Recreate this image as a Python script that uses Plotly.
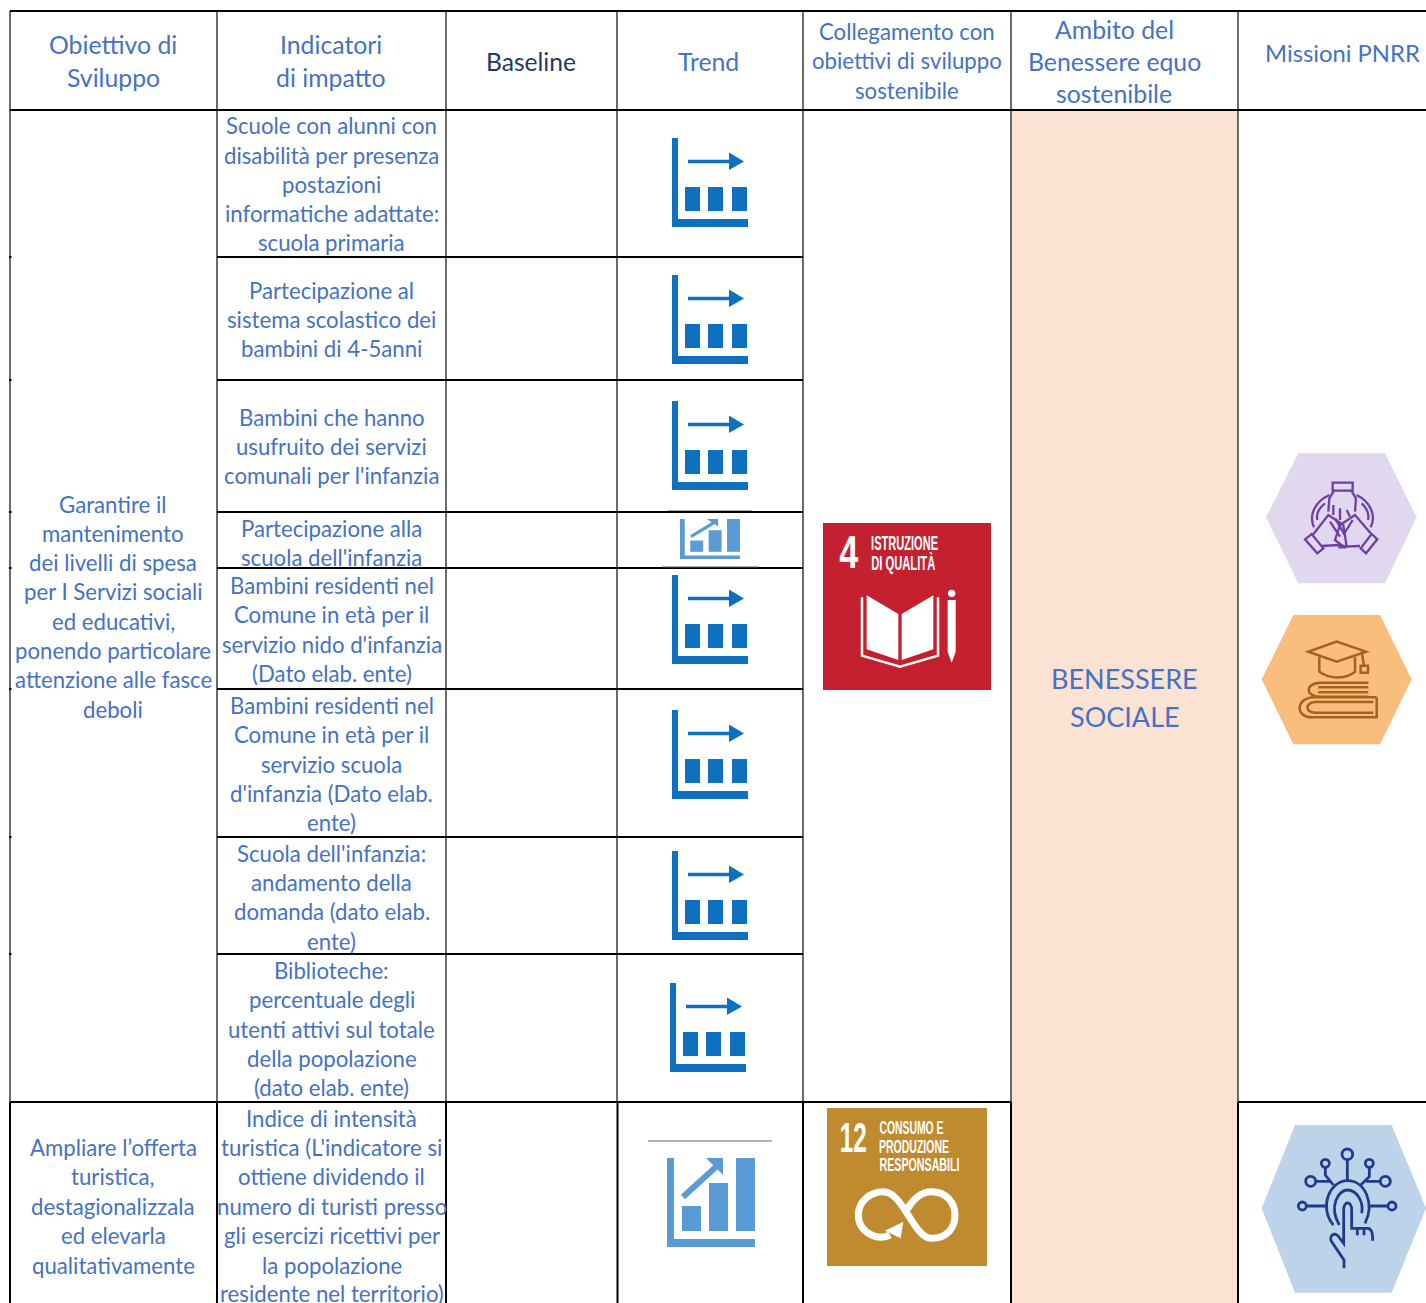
import json
import plotly.graph_objects as go

W, H = 1426, 1303
TEXT = "#4472C4"
FONT = "Lato"
TILE = "Liberation Sans"

# ---------- table structure ----------
col_x = [10, 217, 446, 617, 803, 1011, 1238]
header_top, header_bottom, row_split = 11, 110, 1102
indicator_rows = [257, 380, 512, 568, 689, 837, 954]
peach = (1011, 1238, 110, 1303)

# ---------- header text: (x, y, text, size, colour) ----------
headers = [
    (113, 45, "Obiettivo di", 24.8, TEXT), (113, 78, "Sviluppo", 24.8, TEXT),
    (331, 45, "Indicatori", 24.8, TEXT), (331, 78, "di impatto", 24.8, TEXT),
    (531, 62, "Baseline", 24.6, "#1F3864"), (708, 62, "Trend", 24.8, TEXT),
    (907, 32, "Collegamento con", 22.2, TEXT), (907, 61, "obiettivi di sviluppo", 22.2, TEXT),
    (907, 91, "sostenibile", 22.2, TEXT),
    (1114, 30, "Ambito del", 24.8, TEXT), (1114, 62, "Benessere equo", 24.8, TEXT),
    (1114, 94, "sostenibile", 24.8, TEXT),
    (1342, 54, "Missioni PNRR", 23.8, TEXT),
]

# ---------- body text ----------
goal_lines = [
    (505, "Garantire il"), (534, "mantenimento"), (563, "dei livelli di spesa"),
    (592, "per I Servizi sociali"), (622, "ed educativi,"), (651, "ponendo particolare"),
    (680, "attenzione alle fasce"), (710, "deboli"),
    (1148, "Ampliare l’offerta"), (1177, "turistica,"), (1207, "destagionalizzala"),
    (1236, "ed elevarla"), (1266, "qualitativamente"),
]
indicator_lines = [
    (126, "Scuole con alunni con"), (156, "disabilità per presenza"), (185, "postazioni"),
    (214, "informatiche adattate:"), (243, "scuola primaria"),
    (291, "Partecipazione al"), (320, "sistema scolastico dei"), (349, "bambini di 4-5anni"),
    (418, "Bambini che hanno"), (447, "usufruito dei servizi"), (476, "comunali per l'infanzia"),
    (529, "Partecipazione alla"), (558, "scuola dell'infanzia"),
    (586, "Bambini residenti nel"), (615, "Comune in età per il"),
    (645, "servizio nido d'infanzia"), (674, "(Dato elab. ente)"),
    (706, "Bambini residenti nel"), (735, "Comune in età per il"), (765, "servizio scuola"),
    (794, "d'infanzia (Dato elab."), (823, "ente)"),
    (854, "Scuola dell'infanzia:"), (883, "andamento della"), (912, "domanda (dato elab."),
    (942, "ente)"),
    (971, "Biblioteche:"), (1000, "percentuale degli"), (1030, "utenti attivi sul totale"),
    (1059, "della popolazione"), (1088, "(dato elab. ente)"),
    (1119, "Indice di intensità"), (1148, "turistica (L'indicatore si"),
    (1177, "ottiene dividendo il"), (1207, "numero di turisti presso"),
    (1236, "gli esercizi ricettivi per"), (1266, "la popolazione"),
    (1294, "residente nel territorio)"),
]
ambito_lines = [(679, "BENESSERE"), (717, "SOCIALE")]

# ---------- SDG tile labels: (left, right, y, text, size) ----------
tile_labels = [
    (839, 858, 552, "4", 46), (871, 938, 543, "ISTRUZIONE", 20), (871, 935, 563, "DI QUALITÀ", 20),
    (840, 867, 1137, "12", 42), (879, 943, 1128, "CONSUMO E", 18),
    (879, 949, 1147, "PRODUZIONE", 18), (879, 959, 1165, "RESPONSABILI", 18),
]

# ---------- icon placement ----------
flat_trend_origins = [(671, 138), (671, 275), (671, 401), (671, 575), (671, 710), (671, 851), (669, 983)]
up_trend_boxes = [(680, 519, 60, 40), (667, 1158, 88, 89)]

shapes, anns = [], []
TEXT_SHIFT = -1


def rect(x0, y0, x1, y1, fill):
    shapes.append(dict(type="rect", x0=x0, y0=y0, x1=x1, y1=y1, fillcolor=fill, line_width=0))


def line(x0, y0, x1, y1, color="#000000", width=2):
    shapes.append(dict(type="line", x0=x0, y0=y0, x1=x1, y1=y1, line=dict(color=color, width=width)))


def txt(x, y, s, size, color=TEXT, font=FONT, weight=400):
    anns.append(dict(x=x, y=y + TEXT_SHIFT, text=s, showarrow=False, xanchor="center", yanchor="middle",
                     font=dict(family=font, size=size, color=color, weight=weight), xref="x", yref="y"))


def path(d, ox, oy, s=1 / 3, stroke=None, width=0, fill=None):
    """d is a list of commands and (x, y) pairs in local crop units."""
    out = []
    for item in d:
        if isinstance(item, str):
            out.append(item)
        else:
            out.append(f"{ox + item[0] * s:.2f},{oy + item[1] * s:.2f}")
    spec = dict(type="path", path=" ".join(out), line=dict(color=stroke or "rgba(0,0,0,0)", width=width))
    if fill:
        spec["fillcolor"] = fill
    shapes.append(spec)


def circle(cx, cy, r, ox, oy, stroke, width, fill=None, s=1 / 3):
    x, y, rr = ox + cx * s, oy + cy * s, r * s
    spec = dict(type="circle", x0=x - rr, x1=x + rr, y0=y - rr, y1=y + rr, line=dict(color=stroke, width=width))
    if fill:
        spec["fillcolor"] = fill
    shapes.append(spec)


# ---------- background and grid ----------
rect(peach[0], peach[2], peach[1], peach[3], "#FCE2D2")
for x in col_x:
    line(x, header_top, x, row_split, "#3A3A3A", 1.5)
    line(x + (0.5 if x == 617 else 0), row_split, x + (0.5 if x == 617 else 0), H)
line(col_x[0], header_top, W, header_top)
line(col_x[0], header_bottom, W, header_bottom)
line(col_x[0], row_split, col_x[5], row_split)
line(col_x[6], row_split, W, row_split)
for y in indicator_rows:
    line(col_x[1], y, col_x[4], y)
    line(col_x[0] - 1, y, col_x[0] + 1.5, y)

# ---------- text ----------
for x, y, s, size, c in headers:
    txt(x, y, s, size, c)
for y, s in goal_lines:
    txt(113, y, s, 22.2)
for y, s in indicator_lines:
    txt(331.5, y, s, 22.2)
for y, s in ambito_lines:
    txt(1124.5, y, s, 27)

# ---------- flat trend icons ----------
BLUE = "#0F70C0"
for ox, oy in flat_trend_origins:
    rect(ox + 1, oy, ox + 7, oy + 89, BLUE)
    rect(ox + 1, oy + 81, ox + 77, oy + 89, BLUE)
    for bx in (14, 37, 61):
        rect(ox + bx, oy + 49, ox + bx + 15, oy + 73, BLUE)
    line(ox + 17, oy + 23.5, ox + 60, oy + 23.5, BLUE, 3.5)
    path(["M", (58 * 3, 14.5 * 3), "L", (73 * 3, 23.5 * 3), "L", (58 * 3, 32 * 3), "Z"], ox, oy, fill=BLUE)

# ---------- rising trend icons ----------
LIGHT = "#5B9BD5"
for ox, oy, w, h in up_trend_boxes:
    sx, sy = w / 88, h / 89
    R = lambda a, b, c, d: rect(ox + a * sx, oy + b * sy, ox + c * sx, oy + d * sy, LIGHT)
    R(0, 0, 7, 89)
    R(0, 81, 88, 89)
    R(15, 48, 34, 73)
    R(42, 25, 61, 73)
    R(69, 0, 88, 73)
    line(ox + 16 * sx, oy + 39 * sy, ox + 51 * sx, oy + 7 * sy, LIGHT, 5 * min(sx, sy) + 1)
    shapes.append(dict(type="path",
                       path=f"M {ox + 39 * sx:.1f},{oy:.1f} L {ox + 56 * sx:.1f},{oy:.1f} L {ox + 56 * sx:.1f},{oy + 17 * sy:.1f} Z",
                       fillcolor=LIGHT, line_width=0))
line(648, 1141, 772, 1141, "#666666", 1)
line(668, 510.5, 752, 510.5, "#AAAAAA", 1)
line(662, 567, 758, 567, "#555555", 1)

# ---------- SDG 4 tile ----------
WHITE = "#FFFFFF"
rect(823, 523, 991, 690, "#C5202F")
ox, oy = 810, 510
path(["M", (156, 262), "L", (156, 437), "L", (270, 470), "L", (384, 437), "L", (384, 262)], ox, oy, stroke=WHITE, width=2.5)
path(["M", (170, 256), "L", (265, 312), "L", (265, 450), "L", (170, 418), "Z"], ox, oy, fill=WHITE)
path(["M", (275, 312), "L", (370, 256), "L", (370, 418), "L", (275, 450), "Z"], ox, oy, fill=WHITE)
circle(425, 250, 11, ox, oy, WHITE, 0, WHITE)
path(["M", (413, 270), "L", (437, 270), "L", (437, 425), "L", (425, 458), "L", (413, 425), "Z"], ox, oy, fill=WHITE)

# ---------- SDG 12 tile ----------
rect(827, 1108, 987, 1266, "#BF8B2E")
ox, oy = 620, 1110
path(["M", (810, 375), "C", (770, 395), (715, 365), (715, 315), "C", (715, 275), (750, 245), (790, 245),
      "C", (850, 245), (880, 385), (935, 385), "C", (985, 385), (1005, 350), (1005, 315),
      "C", (1005, 280), (980, 245), (935, 245), "C", (895, 245), (870, 280), (855, 310)],
     ox, oy, stroke=WHITE, width=7)
path(["M", (850, 335), "L", (842, 385), "L", (795, 362), "Z"], ox, oy, fill=WHITE)

# tile labels: centred on their measured extent, condensed in the page below
condense = {}
for left, right, y, s, size in tile_labels:
    txt((left + right) / 2, y - TEXT_SHIFT, s, size, WHITE, TILE, 700)
    condense[s] = right - left

# ---------- mission hexagons ----------
path(["M", (175, 40), "L", (435, 40), "L", (530, 232), "L", (435, 430), "L", (175, 430), "L", (78, 232), "Z"],
     1240, 440, fill="#E1D7EE")
path(["M", (160, 45), "L", (420, 45), "L", (515, 238), "L", (420, 433), "L", (160, 433), "L", (65, 238), "Z"],
     1240, 600, fill="#F9BE7E")
path(["M", (165, 45), "L", (455, 45), "L", (558, 295), "L", (455, 548), "L", (165, 548), "L", (65, 295), "Z"],
     1240, 1110, fill="#BDD3EA")

# hands icon
ox, oy, c, lw = 1240, 440, "#6F3FA3", 2.3
path(["M", (278, 128), "L", (338, 128), "L", (338, 152), "L", (278, 152), "Z"], ox, oy, stroke=c, width=lw)
path(["M", (282, 152), "L", (268, 175), "L", (265, 215), "M", (334, 152), "L", (348, 175), "L", (345, 215)], ox, oy, stroke=c, width=lw)
path(["M", (268, 165), "C", (225, 185), (205, 225), (222, 262)], ox, oy, stroke=c, width=lw)
path(["M", (255, 190), "C", (235, 205), (228, 225), (232, 240)], ox, oy, stroke=c, width=lw)
path(["M", (350, 165), "C", (390, 185), (410, 225), (392, 262)], ox, oy, stroke=c, width=lw)
path(["M", (365, 190), "C", (382, 205), (388, 225), (384, 240)], ox, oy, stroke=c, width=lw)
path(["M", (195, 298), "L", (215, 282), "L", (250, 325), "L", (232, 340), "Z"], ox, oy, stroke=c, width=lw)
path(["M", (362, 325), "L", (395, 282), "L", (412, 298), "L", (378, 340), "Z"], ox, oy, stroke=c, width=lw)
path(["M", (218, 285), "L", (265, 225), "L", (310, 255), "L", (320, 320), "L", (295, 315), "L", (245, 318)], ox, oy, stroke=c, width=lw)
path(["M", (392, 280), "L", (345, 225), "L", (300, 255), "L", (285, 300), "L", (310, 320), "L", (360, 318)], ox, oy, stroke=c, width=lw)
path(["M", (280, 195), "L", (280, 225), "M", (300, 205), "L", (300, 240), "M", (320, 210), "L", (330, 230),
      "M", (270, 245), "L", (300, 290), "M", (285, 235), "L", (312, 280), "M", (338, 240), "L", (310, 285)], ox, oy, stroke=c, width=lw)
line(ox + 295 / 3, oy + 322 / 3, ox + 318 / 3, oy + 322 / 3, c, lw)

# books and cap icon
ox, oy, c, lw = 1240, 600, "#A5621F", 2.5
path(["M", (205, 155), "L", (290, 125), "L", (378, 155), "L", (290, 185), "Z"], ox, oy, stroke=c, width=lw)
path(["M", (238, 172), "L", (238, 215), "C", (270, 238), (320, 238), (345, 215), "L", (345, 172)], ox, oy, stroke=c, width=lw)
path(["M", (365, 155), "L", (372, 197)], ox, oy, stroke=c, width=lw)
path(["M", (362, 197), "L", (384, 197), "L", (384, 218), "L", (362, 218), "Z"], ox, oy, stroke=c, width=lw)
path(["M", (385, 248), "L", (240, 248), "C", (195, 250), (195, 290), (240, 290), "L", (385, 290),
      "M", (385, 262), "L", (235, 262), "M", (385, 277), "L", (235, 277)], ox, oy, stroke=c, width=lw)
path(["M", (410, 292), "L", (220, 292), "C", (165, 295), (165, 355), (220, 352), "L", (410, 352), "L", (410, 292),
      "M", (400, 306), "L", (225, 306), "C", (195, 310), (195, 335), (225, 338), "L", (400, 338)], ox, oy, stroke=c, width=lw)

# touch icon
ox, oy, c, lw = 1240, 1110, "#1F3C8C", 2.8
for cx, cy, r in [(322, 133, 16), (256, 160, 12), (388, 160, 12), (212, 214, 15), (436, 214, 15), (187, 288, 12), (456, 288, 12)]:
    circle(cx, cy, r, ox, oy, c, lw)
path(["M", (322, 150), "L", (322, 210), "M", (256, 172), "L", (256, 195), "L", (280, 225),
      "M", (388, 172), "L", (388, 200), "L", (362, 225), "M", (228, 214), "L", (270, 214),
      "M", (420, 214), "L", (378, 214), "M", (200, 288), "L", (258, 288), "M", (385, 288), "L", (443, 288)],
     ox, oy, stroke=c, width=lw)
path(["M", (280, 345), "C", (235, 290), (270, 212), (322, 212), "C", (375, 212), (405, 280), (375, 340)], ox, oy, stroke=c, width=lw)
path(["M", (298, 345), "C", (265, 290), (295, 240), (322, 240), "C", (350, 240), (372, 275), (365, 310)], ox, oy, stroke=c, width=lw)
path(["M", (312, 475), "L", (312, 450), "L", (275, 395), "C", (265, 378), (285, 362), (297, 382), "L", (311, 400),
      "L", (311, 300), "C", (311, 272), (335, 272), (335, 300), "L", (335, 355), "L", (385, 355),
      "C", (398, 360), (398, 375), (398, 392), "M", (352, 358), "L", (352, 376), "M", (372, 358), "L", (372, 376)],
     ox, oy, stroke=c, width=lw)

fig = go.Figure()
fig.update_layout(
    width=W, height=H, margin=dict(l=0, r=0, t=0, b=0), showlegend=False,
    paper_bgcolor="#FFFFFF", plot_bgcolor="#FFFFFF", shapes=shapes, annotations=anns,
    xaxis=dict(range=[0, W], visible=False, fixedrange=True),
    yaxis=dict(range=[H, 0], visible=False, fixedrange=True),
)
post = """
document.body.style.margin='0';document.documentElement.style.overflow='hidden';
var m=%s;
document.querySelectorAll('.annotation-text').forEach(function(t){
  var n=m[t.textContent];
  if(n){t.setAttribute('textLength',n);t.setAttribute('lengthAdjust','spacingAndGlyphs');}
});
""" % json.dumps(condense)
fig.write_html("out.html", config=dict(displayModeBar=False), post_script=post)
